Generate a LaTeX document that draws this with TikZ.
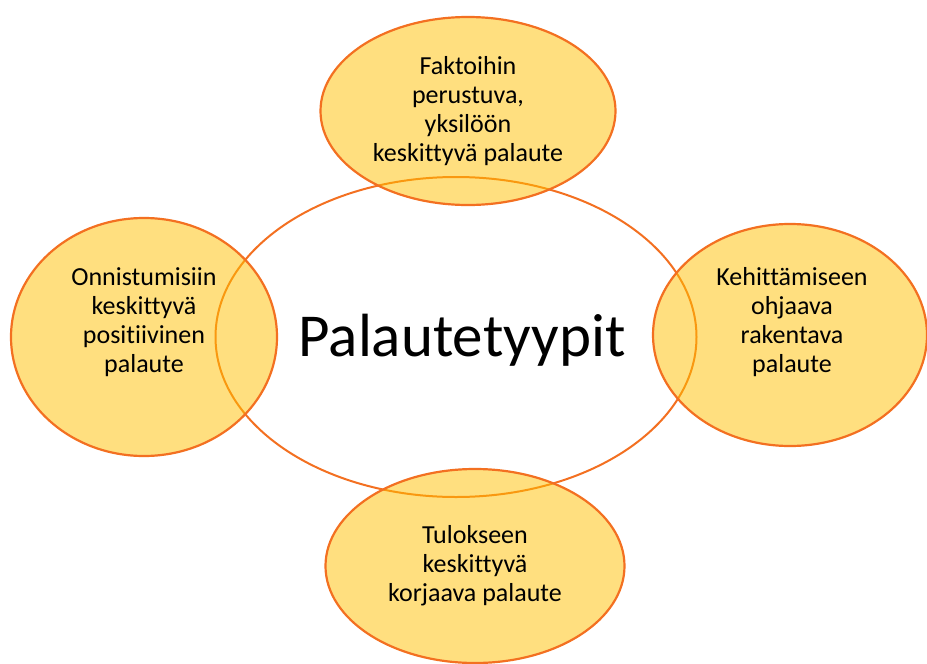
\documentclass[tikz,border=0pt]{standalone}
\usepackage{fontspec}
\setmainfont{Carlito}[Ligatures={NoCommon}]
\usetikzlibrary{shapes.geometric}
\definecolor{edgeorange}{HTML}{F37021}
\definecolor{fillyellow}{HTML}{FFC000}
\tikzset{
  yellowell/.style={ellipse, draw=edgeorange, line width=2.2pt, fill=fillyellow, fill opacity=0.5, text opacity=1, inner sep=0pt, align=center, font=\fontsize{26}{29}\selectfont},
  centerell/.style={ellipse, draw=edgeorange, line width=2pt, inner sep=0pt},
  smalltext/.style={align=center, inner sep=0pt, font=\fontsize{26}{29}\selectfont}
}
\begin{document}
\begin{tikzpicture}[x=1pt,y=-1pt]
\useasboundingbox (0,0) rectangle (927,664);
\node[centerell, minimum width=481pt, minimum height=320pt] (center) at (456,337) {};
\node[font=\fontsize{61}{68}\selectfont] (title) at (462,340) {Palautetyypit};
\node[yellowell, minimum width=295pt, minimum height=188pt] (top) at (468,111) {Faktoihin\\perustuva,\\yksilöön\\keskittyvä palaute};
\node[yellowell, minimum width=266pt, minimum height=238pt] (left) at (144,337) {};
\node[smalltext] (lefttext) at (144,322) {Onnistumisiin\\keskittyvä\\positiivinen\\palaute};
\node[yellowell, minimum width=274pt, minimum height=222pt] (right) at (790,335) {};
\node[smalltext] (righttext) at (792,322) {Kehittämiseen\\ohjaava\\rakentava\\palaute};
\node[yellowell, minimum width=299pt, minimum height=194pt] (bottom) at (475,566) {Tulokseen\\keskittyvä\\korjaava palaute};
\end{tikzpicture}
\end{document}
